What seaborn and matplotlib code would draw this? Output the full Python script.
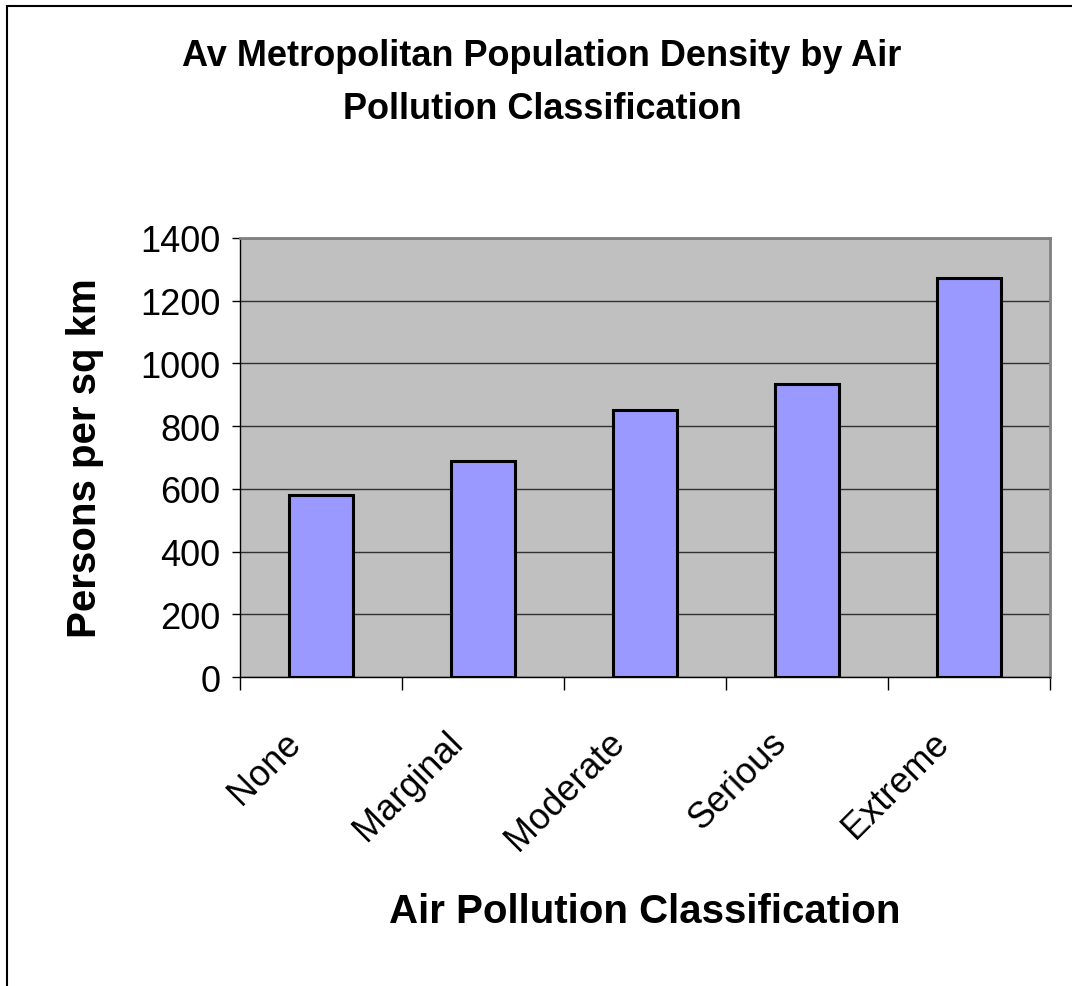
import matplotlib
matplotlib.use("Agg")
import matplotlib.pyplot as plt
import matplotlib.transforms as mtransforms
from matplotlib.patches import Rectangle
import seaborn as sns
import pandas as pd

# data
categories = ["None", "Marginal", "Moderate", "Serious", "Extreme"]
density = [582, 690, 851, 933, 1272]
y_ticks = [0, 200, 400, 600, 800, 1000, 1200, 1400]

df = pd.DataFrame({"Classification": categories, "Density": density})

sns.set_theme(style="white")
plt.rcParams["font.family"] = ["Liberation Sans", "DejaVu Sans"]
plt.rcParams["text.color"] = "black"
plt.rcParams["xtick.color"] = "black"
plt.rcParams["ytick.color"] = "black"

fig = plt.figure(figsize=(10.72, 9.87), dpi=100)
ax = fig.add_axes([240 / 1072, 1 - 678 / 987, 810 / 1072, 439 / 987])

# outer chart frame (runs off right and bottom edges)
fig.patches.append(Rectangle((7 / 1072, -0.1), 1.2, 1 - 7 / 987 + 0.1,
                             transform=fig.transFigure, fill=False,
                             edgecolor="black", linewidth=1.5))

ax.set_facecolor("#C0C0C0")
sns.barplot(data=df, x="Classification", y="Density", color="#9999FF",
            saturation=1, width=0.4, edgecolor="black", linewidth=2.2,
            ax=ax, zorder=3)

ax.set_ylim(0, 1400)
ax.set_xlim(-0.5, 4.5)
ax.set_yticks(y_ticks)
ax.set_yticklabels([str(v) for v in y_ticks], fontsize=26)
ax.yaxis.grid(True, color="#303030", linewidth=1)
ax.set_axisbelow(True)

# tick marks at category boundaries, labels at centres
ax.set_xticks([i - 0.5 for i in range(len(categories) + 1)], minor=True)
ax.tick_params(axis="x", which="minor", length=9, width=1, color="black",
               direction="out", bottom=True)
ax.tick_params(axis="x", which="major", length=0)
ax.tick_params(axis="y", length=6, width=1, color="black", direction="out",
               left=True, pad=8)
ax.set_xticks(range(len(categories)))
ax.set_xticklabels(categories, fontsize=26, rotation=45, ha="right",
                   va="center", rotation_mode="anchor")
offset = mtransforms.ScaledTranslation(-26 / 100, -55 / 100, fig.dpi_scale_trans)
for lab in ax.get_xticklabels():
    lab.set_transform(lab.get_transform() + offset)

for side in ["top", "right"]:
    ax.spines[side].set_color("#808080")
    ax.spines[side].set_linewidth(2)
for side in ["left", "bottom"]:
    ax.spines[side].set_color("black")
    ax.spines[side].set_linewidth(1)

ax.set_xlabel("")
ax.set_ylabel("")

fig.text(542 / 1072, 1 - 83 / 987,
         "Av Metropolitan Population Density by Air\nPollution Classification",
         ha="center", va="center", fontsize=26, fontweight="bold",
         linespacing=1.65)
fig.text(85 / 1072, 1 - 458 / 987, "Persons per sq km", rotation=90,
         ha="center", va="center", fontsize=29, fontweight="bold")
fig.text(645 / 1072, 1 - 912 / 987, "Air Pollution Classification",
         ha="center", va="center", fontsize=29, fontweight="bold")

fig.savefig("out.png", dpi=100)
